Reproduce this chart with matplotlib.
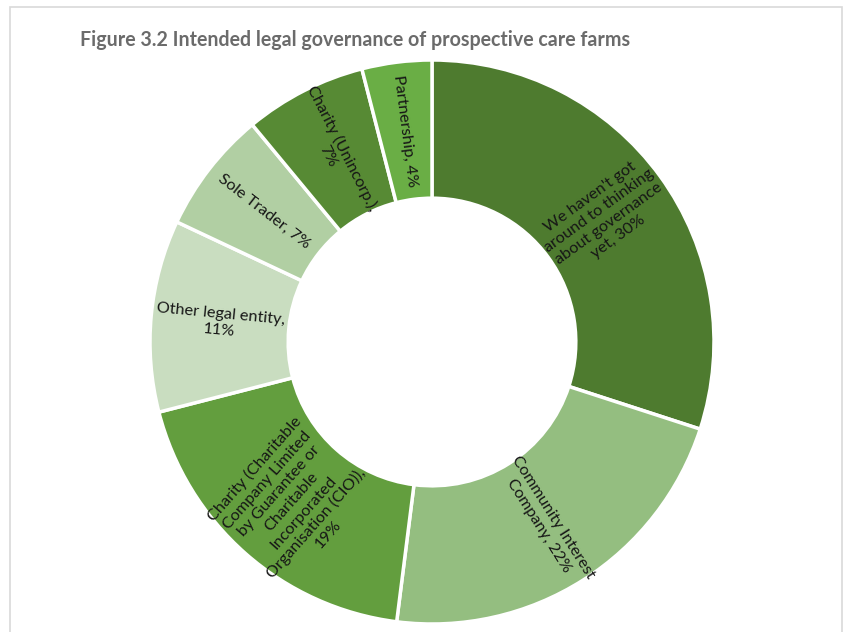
import numpy as np
import matplotlib
matplotlib.use('Agg')
import matplotlib.pyplot as plt
from matplotlib.patches import Rectangle

# survey shares, clockwise from 12 o'clock
labels = ["We haven't got\naround to thinking\nabout governance\nyet",
          "Community Interest\nCompany",
          "Charity (Charitable\nCompany Limited\nby Guarantee or\nCharitable\nIncorporated\nOrganisation (CIO)),\n",
          "Other legal entity,\n",
          "Sole Trader",
          "Charity (Unincorp.),\n",
          "Partnership"]
shares = [30, 22, 19, 11, 7, 7, 4]
colors = ['#4E7B2F', '#94BE80', '#639E3E', '#C9DDC0', '#B1CFA3', '#578A34', '#6AAE45']

title = 'Figure 3.2 Intended legal governance of prospective care farms'

W, H = 854, 632
fig = plt.figure(figsize=(W / 100, H / 100), dpi=100)
fig.patch.set_facecolor('white')

# faint frame of the chart area
fig.patches.append(Rectangle((10 / W, -0.1), (842 - 10) / W, 1.1 - 7 / H,
                             transform=fig.transFigure, fill=False,
                             edgecolor='#D9D9D9', linewidth=1.2))

fig.text(80 / W, 1 - 40 / H, title, fontsize=14.1, fontweight='bold',
         color='#6B6B6B', family=['Lato', 'DejaVu Sans'], va='center', ha='left')

cx, cy, R = 432, 342, 282
ax = fig.add_axes([(cx - R) / W, (H - cy - R) / H, 2 * R / W, 2 * R / H])

wedges, _ = ax.pie(shares, startangle=90, counterclock=False, colors=colors,
                   radius=1.0,
                   wedgeprops=dict(width=0.49, edgecolor='white', linewidth=2.5))
ax.set_xlim(-1, 1)
ax.set_ylim(-1, 1)
ax.set_aspect('equal')
ax.axis('off')

# radial labels sitting in the middle of the ring
for w, lab, v in zip(wedges, labels, shares):
    mid = 0.5 * (w.theta1 + w.theta2)
    rad = np.deg2rad(mid)
    r = 0.755
    x, y = r * np.cos(rad), r * np.sin(rad)
    rot = mid
    if np.cos(rad) < 0:
        rot = mid - 180
    rot = (rot + 180) % 360 - 180
    if lab.endswith('\n'):
        txt = lab + f'{v}%'
    else:
        txt = lab + f', {v}%'
    ax.text(x, y, txt, rotation=rot, rotation_mode='anchor',
            ha='center', va='center', multialignment='center',
            fontsize=11.7, color='#161616', linespacing=1.2,
            family=['Lato', 'DejaVu Sans'])

fig.savefig('out.png', dpi=100)
